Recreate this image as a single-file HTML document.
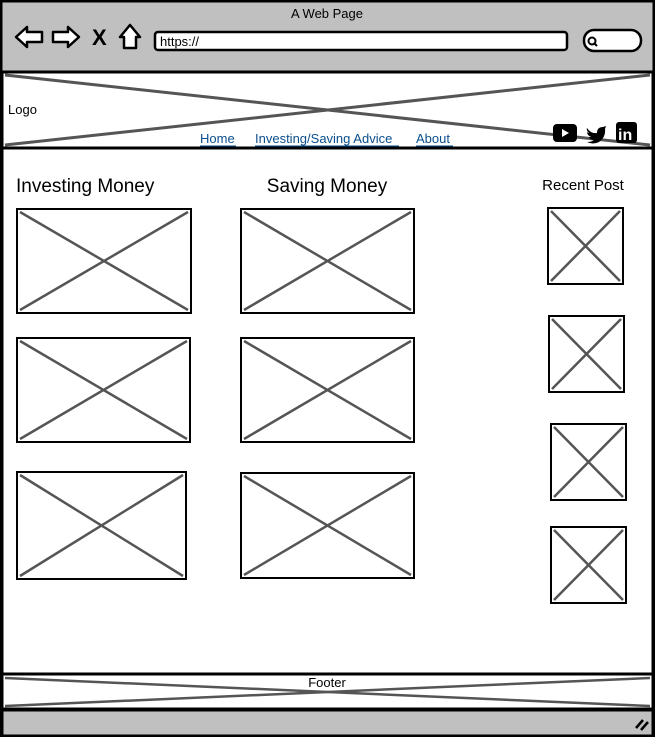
<!DOCTYPE html>
<html><head><meta charset="utf-8"><style>
html,body{margin:0;padding:0;background:#fff;width:655px;height:738px;overflow:hidden}
svg{display:block}
text{font-family:"Liberation Sans",sans-serif}
</style></head><body>
<svg width="655" height="738" viewBox="0 0 655 738" xmlns="http://www.w3.org/2000/svg">
<rect x="1" y="1" width="653" height="735" fill="#fff" stroke="#000" stroke-width="2"/>
<rect x="1.5" y="1.5" width="652" height="70" fill="#c0c0c0" stroke="#000" stroke-width="2"/>
<text x="327" y="18" font-size="13" text-anchor="middle">A Web Page</text>
<path d="M16 37 L27 27 L27 32 L42 32 L42 42 L27 42 L27 47 Z" fill="#fff" stroke="#000" stroke-width="2.5" stroke-linejoin="round"/>
<path d="M79 37 L68 27 L68 32 L53 32 L53 42 L68 42 L68 47 Z" fill="#fff" stroke="#000" stroke-width="2.5" stroke-linejoin="round"/>
<text x="92" y="45" font-size="22" font-weight="bold">X</text>
<path d="M130 25 L120 37 L124 37 L124 48 L136 48 L136 37 L140 37 Z" fill="#fff" stroke="#000" stroke-width="2.5" stroke-linejoin="round"/>
<rect x="155" y="32" width="412" height="18" rx="3" fill="#fff" stroke="#000" stroke-width="2.5"/>
<text x="160" y="46" font-size="13">https://</text>
<rect x="584" y="30" width="57" height="21" rx="10" fill="#fff" stroke="#000" stroke-width="2.5"/>
<circle cx="592" cy="41" r="3.5" fill="none" stroke="#000" stroke-width="2"/>
<line x1="594" y1="43" x2="597" y2="46" stroke="#000" stroke-width="2"/>
<rect x="2.5" y="72.5" width="650" height="75" fill="#fff" stroke="#000" stroke-width="2"/>
<line x1="5" y1="75" x2="650" y2="145" stroke="#555" stroke-width="3"/>
<line x1="5" y1="145" x2="650" y2="75" stroke="#555" stroke-width="3"/>
<text x="8" y="114" font-size="13">Logo</text>
<g font-size="13" fill="#0b4f8e">
<text x="200" y="143">Home</text>
<text x="255" y="143">Investing/Saving Advice</text>
<text x="416" y="143">About</text>
</g>
<line x1="200" y1="146" x2="236" y2="146" stroke="#0b4f8e"/>
<line x1="255" y1="146" x2="399" y2="146" stroke="#0b4f8e"/>
<line x1="416" y1="146" x2="453" y2="146" stroke="#0b4f8e"/>
<rect x="553" y="124" width="24" height="18" rx="4" fill="#000"/>
<path d="M562 129 L569 133 L562 137 Z" fill="#fff"/>
<path d="M587 128 q4 6 10 5 q0 -6 6 -6 l3 -1 l-1 3 q1 8 -6 13 q-6 3 -12 0 q5 0 7 -2 q-4 0 -5 -3 h2 q-4 -2 -4 -5 q1 1 2 1 q-3 -3 -2 -5z" fill="#000"/>
<rect x="616" y="122" width="21" height="21" rx="3" fill="#000"/>
<text x="618" y="140" font-size="16" font-weight="bold" fill="#fff">in</text>
<rect x="2.5" y="148.5" width="650" height="525" fill="#fff" stroke="#000" stroke-width="2"/>
<text x="16" y="192" font-size="19">Investing Money</text>
<text x="327" y="192" font-size="19" text-anchor="middle">Saving Money</text>
<text x="583" y="190" font-size="15" text-anchor="middle">Recent Post</text>
<g stroke="#555" stroke-width="2.5">
<rect x="17" y="209" width="174" height="104" fill="#fff" stroke="#000" stroke-width="2"/><line x1="20" y1="212" x2="188" y2="310"/><line x1="20" y1="310" x2="188" y2="212"/>
<rect x="17" y="338" width="173" height="104" fill="#fff" stroke="#000" stroke-width="2"/><line x1="20" y1="341" x2="187" y2="439"/><line x1="20" y1="439" x2="187" y2="341"/>
<rect x="17" y="472" width="169" height="107" fill="#fff" stroke="#000" stroke-width="2"/><line x1="20" y1="475" x2="183" y2="576"/><line x1="20" y1="576" x2="183" y2="475"/>
<rect x="241" y="209" width="173" height="104" fill="#fff" stroke="#000" stroke-width="2"/><line x1="244" y1="212" x2="411" y2="310"/><line x1="244" y1="310" x2="411" y2="212"/>
<rect x="241" y="338" width="173" height="104" fill="#fff" stroke="#000" stroke-width="2"/><line x1="244" y1="341" x2="411" y2="439"/><line x1="244" y1="439" x2="411" y2="341"/>
<rect x="241" y="473" width="173" height="105" fill="#fff" stroke="#000" stroke-width="2"/><line x1="244" y1="476" x2="411" y2="575"/><line x1="244" y1="575" x2="411" y2="476"/>
<rect x="548" y="208" width="75" height="76" fill="#fff" stroke="#000" stroke-width="2"/><line x1="551" y1="211" x2="620" y2="281"/><line x1="551" y1="281" x2="620" y2="211"/>
<rect x="549" y="316" width="75" height="76" fill="#fff" stroke="#000" stroke-width="2"/><line x1="552" y1="319" x2="621" y2="389"/><line x1="552" y1="389" x2="621" y2="319"/>
<rect x="551" y="424" width="75" height="76" fill="#fff" stroke="#000" stroke-width="2"/><line x1="554" y1="427" x2="623" y2="497"/><line x1="554" y1="497" x2="623" y2="427"/>
<rect x="551" y="527" width="75" height="76" fill="#fff" stroke="#000" stroke-width="2"/><line x1="554" y1="530" x2="623" y2="600"/><line x1="554" y1="600" x2="623" y2="530"/>
</g>
<rect x="2.5" y="674.5" width="650" height="34" fill="#fff" stroke="#000" stroke-width="2"/>
<line x1="5" y1="678" x2="650" y2="706" stroke="#555" stroke-width="2.5"/>
<line x1="5" y1="706" x2="650" y2="678" stroke="#555" stroke-width="2.5"/>
<text x="327" y="687" font-size="13" text-anchor="middle">Footer</text>
<rect x="2.5" y="710.5" width="650" height="25" fill="#c0c0c0" stroke="#000" stroke-width="2"/>
<line x1="636" y1="728" x2="643" y2="720" stroke="#000" stroke-width="2.5"/>
<line x1="641" y1="730" x2="648" y2="722" stroke="#000" stroke-width="2.5"/>
</svg>
</body></html>
